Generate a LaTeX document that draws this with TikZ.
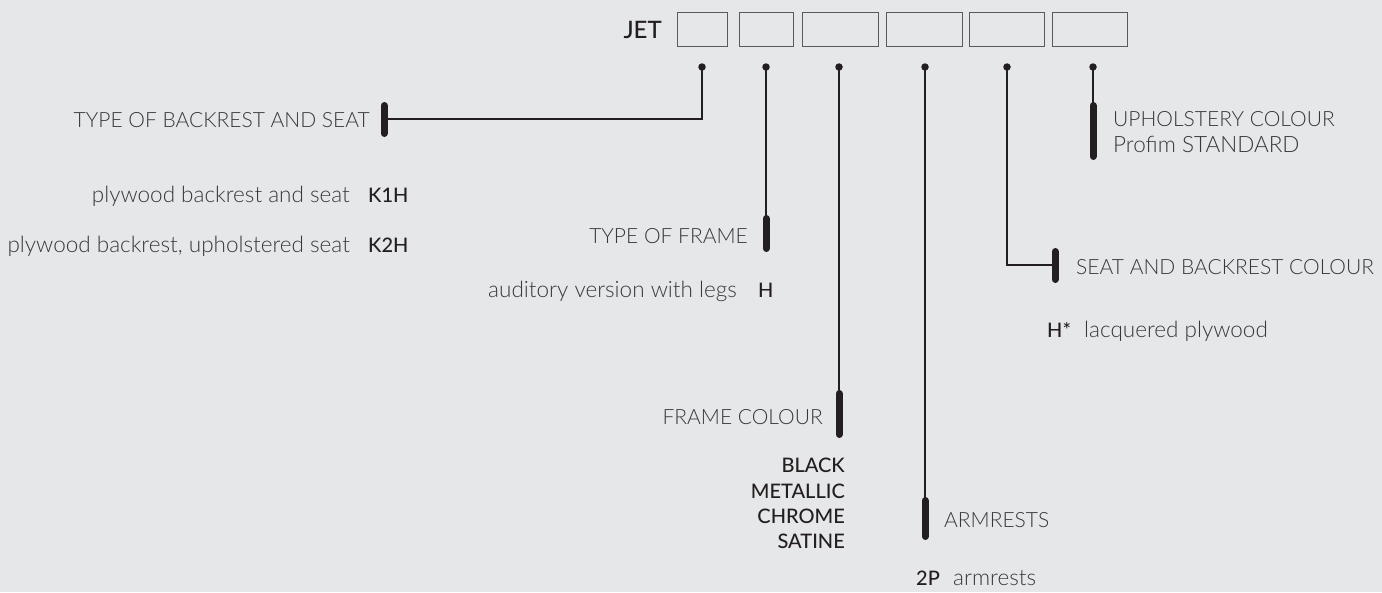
\documentclass[tikz,border=0pt]{standalone}
\usepackage{fontspec}
\IfFontExistsTF{Lato Light}{\setmainfont{Lato Light}}{\setmainfont{Lato}}
\IfFontExistsTF{Lato Medium}{\newfontfamily\medfont{Lato Medium}}{\IfFontExistsTF{Lato Semibold}{\newfontfamily\medfont{Lato Semibold}}{\newfontfamily\medfont{Lato}}}
\definecolor{bg}{HTML}{E6E7E9}
\definecolor{txt}{HTML}{383838}
\definecolor{dark}{HTML}{231F20}
\definecolor{boxc}{HTML}{5A5A5A}
\begin{document}
\begin{tikzpicture}[x=1pt,y=-1pt,
  lt/.style={inner sep=0pt, text=txt, font=\fontsize{21}{25}\selectfont},
  lc/.style={inner sep=0pt, text=txt, font=\fontsize{22.5}{26}\selectfont},
  md/.style={inner sep=0pt, text=dark, font=\medfont\fontsize{20}{24}\selectfont},
  slot/.style={draw=boxc, line width=1.2pt, inner sep=0pt, anchor=north west, minimum height=34pt},
  conn/.style={draw=dark, line width=1.1pt},
  bar/.style={draw=dark, line width=7pt, line cap=round},
  dotc/.style={circle, fill=dark, inner sep=0pt, minimum size=7.5pt}]
\fill[bg] (0,0) rectangle (1382,592);
\useasboundingbox (0,0) rectangle (1382,592);
% header
\node[md, anchor=base east, font=\medfont\fontsize{24}{28}\selectfont] (jet) at (662,38) {JET};
\node[slot, minimum width=50pt] (b1) at (677,12) {};
\node[slot, minimum width=54pt] (b2) at (739,12) {};
\node[slot, minimum width=76pt] (b3) at (802,12) {};
\node[slot, minimum width=76pt] (b4) at (886,12) {};
\node[slot, minimum width=75pt] (b5) at (969,12) {};
\node[slot, minimum width=75pt] (b6) at (1052,12) {};
% dots
\node[dotc] (d1) at (702,67) {};
\node[dotc] (d2) at (766,67) {};
\node[dotc] (d3) at (839,67) {};
\node[dotc] (d4) at (925,67) {};
\node[dotc] (d5) at (1007,67) {};
\node[dotc] (d6) at (1093,67) {};
% bars
\coordinate (t1) at (384,105.5); \coordinate (u1) at (384,133.5); \coordinate (j1) at (384,119);
\coordinate (t2) at (766,218.5); \coordinate (u2) at (766,248.5);
\coordinate (t3) at (839,393.5); \coordinate (u3) at (839,434.5);
\coordinate (t4) at (925,500.5); \coordinate (u4) at (925,536.5);
\coordinate (t5) at (1055,251.5); \coordinate (u5) at (1055,279.5); \coordinate (j5) at (1055,265);
\coordinate (t6) at (1093,105.5); \coordinate (u6) at (1093,156.5);
% connectors
\draw[conn] (d1.center) |- (j1);
\draw[conn] (d2.center) -- (t2);
\draw[conn] (d3.center) -- (t3);
\draw[conn] (d4.center) -- (t4);
\draw[conn] (d5.center) |- (j5);
\draw[conn] (d6.center) -- (t6);
\foreach \i in {1,...,6} {\draw[bar] (t\i) -- (u\i);}
% labels
\node[lt, anchor=base east] (l1) at (370,127) {TYPE OF BACKREST AND SEAT};
\node[lc, anchor=base east] (l1a) at (350,202) {plywood backrest and seat};
\node[md, anchor=base west] (c1a) at (368,202) {K1H};
\node[lc, anchor=base east] (l1b) at (350,252) {plywood backrest, upholstered seat};
\node[md, anchor=base west] (c1b) at (368,252) {K2H};
\node[lt, anchor=base east] (l2) at (748,243) {TYPE OF FRAME};
\node[lc, anchor=base east] (l2a) at (737,297) {auditory version with legs};
\node[md, anchor=base west] (c2a) at (758,297) {H};
\node[lt, anchor=base east] (l3) at (823,424) {FRAME COLOUR};
\node[md, anchor=base east] (c3a) at (845,472) {BLACK};
\node[md, anchor=base east] (c3b) at (845,498) {METALLIC};
\node[md, anchor=base east] (c3c) at (845,523) {CHROME};
\node[md, anchor=base east] (c3d) at (845,548) {SATINE};
\node[lt, anchor=base west] (l4) at (944,527) {ARMRESTS};
\node[md, anchor=base west] (c4a) at (916,585) {2P};
\node[lc, anchor=base west] (l4a) at (953,585) {armrests};
\node[lt, anchor=base west] (l5) at (1076,274) {SEAT AND BACKREST COLOUR};
\node[md, anchor=base west] (c5a) at (1047,337) {H*};
\node[lc, anchor=base west] (l5a) at (1084,337) {lacquered plywood};
\node[lt, anchor=base west] (l6) at (1113,126) {UPHOLSTERY COLOUR};
\node[lc, anchor=base west] (l6a) at (1113,152) {Profim STANDARD};
\end{tikzpicture}
\end{document}
